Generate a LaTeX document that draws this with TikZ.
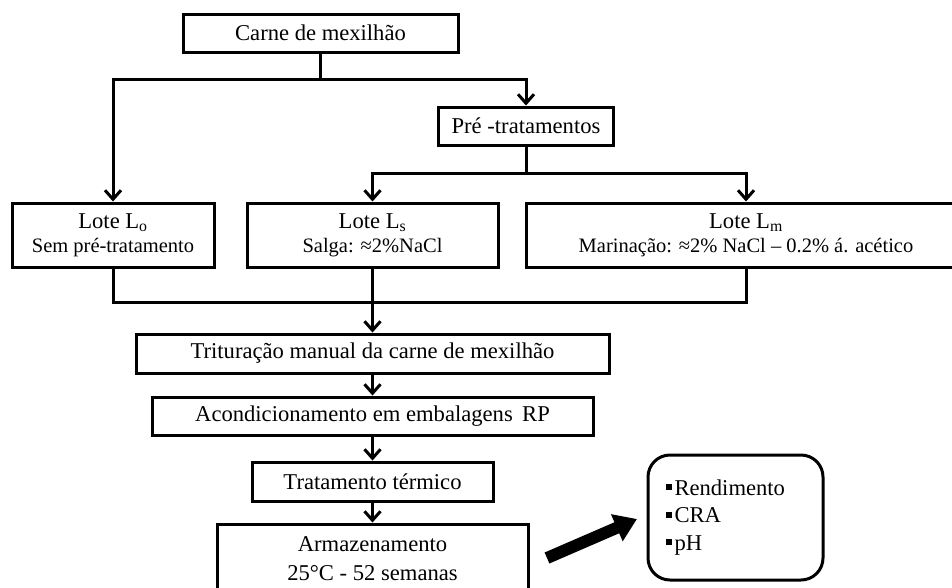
\documentclass[tikz,border=0pt]{standalone}
\usepackage{fontspec}
\setmainfont{Liberation Serif}
\usetikzlibrary{arrows.meta}
\newcommand{\marca}{\rule[5pt]{6pt}{6pt}\hspace{3pt}}
\newcommand{\menor}{\fontsize{20.5}{24}\selectfont}
\begin{document}
\begin{tikzpicture}[x=1pt, y=-1pt, line join=miter,
	caixa/.style={draw, line width=3pt, inner sep=0pt, align=center, font=\fontsize{22.6}{24}\selectfont},
	linha/.style={line width=3pt},
	seta/.style={line width=3pt, -{Straight Barb[length=9pt,width=16pt]}}]
	\useasboundingbox (0,0) rectangle (952,587);
	% caixas do fluxograma
	\node[caixa, minimum width=275, minimum height=38] (carne) at (320.5,33) {Carne de mexilhão};
	\node[caixa, minimum width=175, minimum height=38] (pre) at (526,126) {Pré -tratamentos};
	\node[caixa, minimum width=202, minimum height=64] (lo) at (113,235) {Lote L\textsubscript{o}\\{\menor Sem pré-tratamento}};
	\node[caixa, minimum width=251, minimum height=64] (ls) at (372.5,235) {Lote L\textsubscript{s}\\{\menor Salga: ≈2\%NaCl}};
	\node[caixa, minimum width=440, minimum height=64] (lm) at (746,235) {Lote L\textsubscript{m}\\{\menor Marinação: ≈2\% NaCl – 0.2\% á. acético}};
	\node[caixa, minimum width=473, minimum height=39] (trit) at (372.5,353.5) {Trituração manual da carne de mexilhão};
	\node[caixa, minimum width=441, minimum height=38] (acond) at (372.5,416) {Acondicionamento em embalagens\, RP};
	\node[caixa, minimum width=241, minimum height=39] (trat) at (372.5,481.5) {Tratamento térmico};
	\node[caixa, minimum width=311, minimum height=70] (arm) at (372.5,559) {Armazenamento\\[5pt]25°C - 52 semanas};
	\node[draw, line width=3pt, rounded corners=22pt, inner sep=0pt, minimum width=175, minimum height=125,
		text width=140, align=left, font=\fontsize{22.6}{27.5}\selectfont] (analises) at (735.5,517.5)
		{\marca Rendimento\\\marca CRA\\\marca pH};
	% ligacoes
	\path (320.5,79) coordinate (s1)
		(526,173) coordinate (s2)
		(372.5,302) coordinate (j1)
		(547,558) coordinate (setaA)
		(637,519) coordinate (setaB);
	\draw[linha] (carne) -- (s1);
	\draw[seta] (s1) -| (lo);
	\draw[seta] (s1) -| (pre);
	\draw[linha] (pre) -- (s2);
	\draw[seta] (s2) -| (ls);
	\draw[seta] (s2) -| (lm);
	\draw[linha] (lo) |- (j1) -| (lm);
	\draw[seta] (ls) -- (trit);
	\draw[seta] (trit) -- (acond);
	\draw[seta] (acond) -- (trat);
	\draw[seta] (trat) -- (arm);
	\draw[line width=12pt, -{Triangle[length=22pt,width=28pt]}] (setaA) -- (setaB);
\end{tikzpicture}
\end{document}
